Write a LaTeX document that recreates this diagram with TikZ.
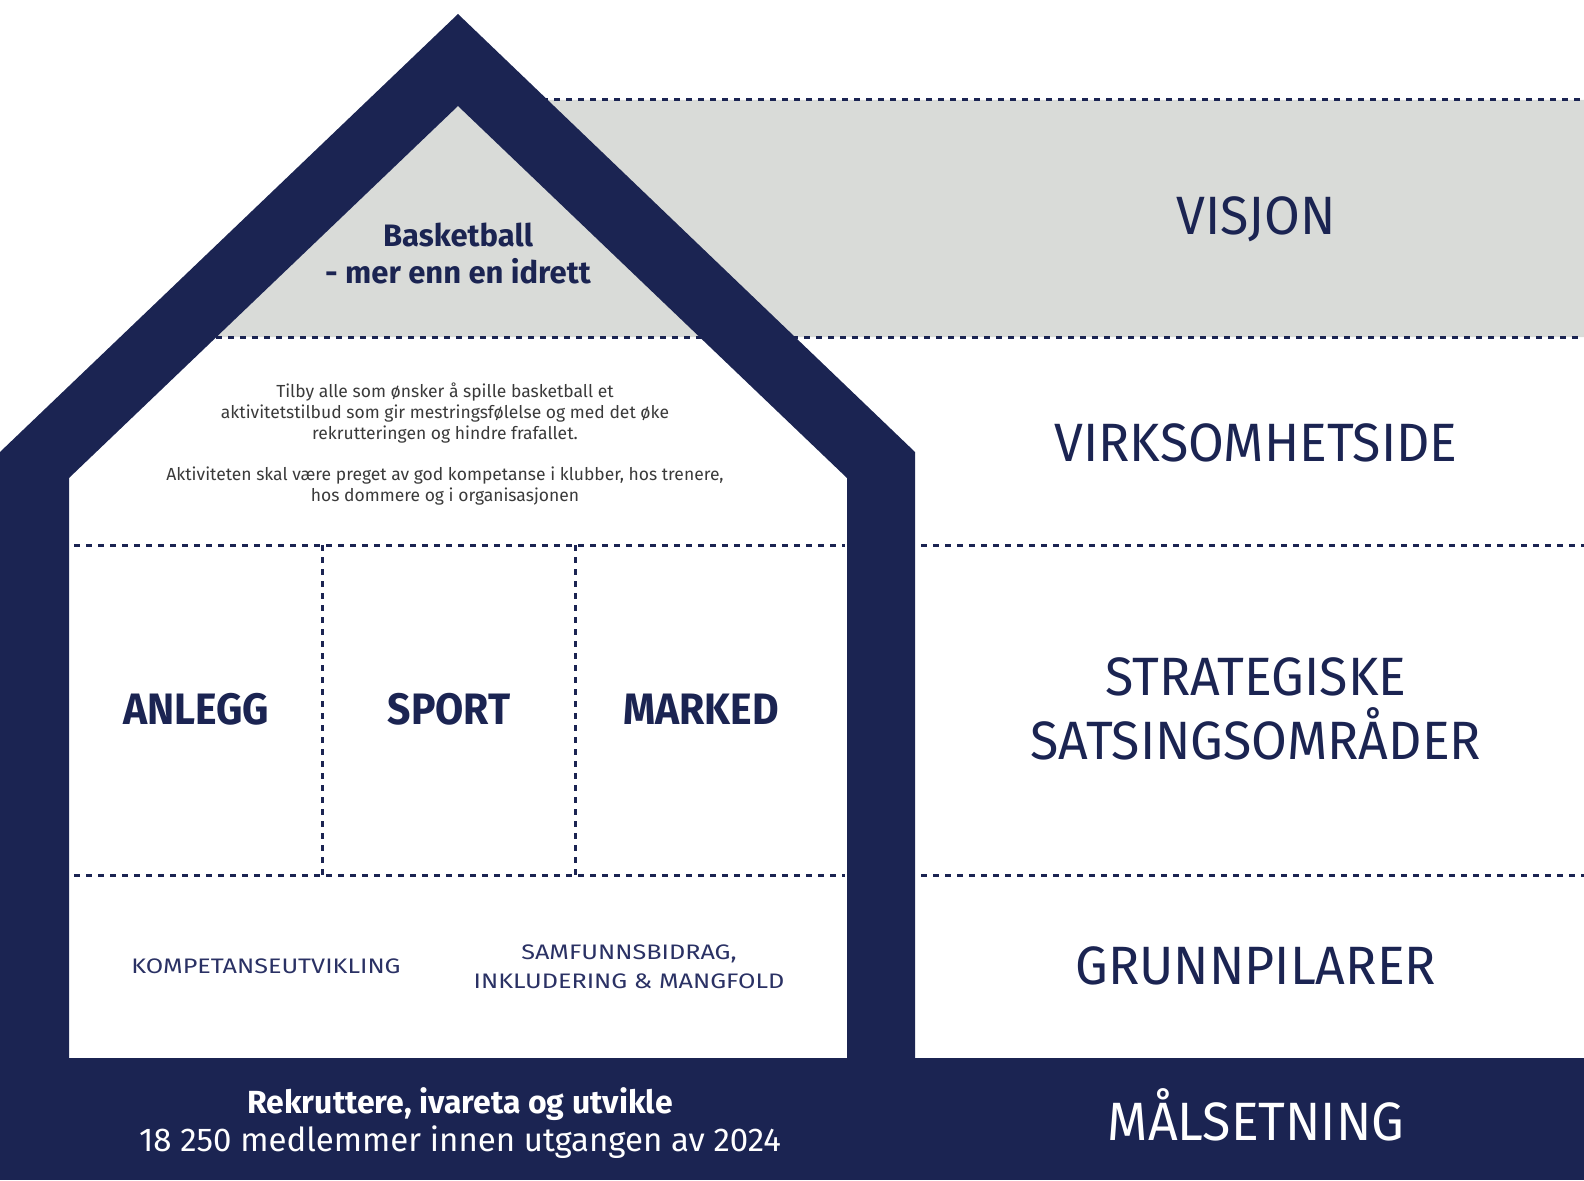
\documentclass[tikz,border=0pt]{standalone}
\usepackage{fontspec}
\setmainfont{Fira Sans}
\newfontfamily\levelfont{Fira Sans}[FakeStretch=0.96]
\newfontfamily\pillarfont{Fira Sans}[FakeStretch=0.93]
\newfontfamily\widefont{Fira Sans}[FakeStretch=1.2]
\definecolor{navy}{HTML}{1B2452}
\definecolor{visgray}{HTML}{D9DBD8}
\definecolor{bodygray}{HTML}{3A3A3A}
\definecolor{basisblue}{HTML}{2A3164}
\tikzset{
  sep/.style={navy, line width=3pt, dash pattern=on 6pt off 6pt},
  level/.style={anchor=base, text=navy, inner sep=0pt, font=\levelfont\fontsize{54}{60}\selectfont},
  pillar/.style={anchor=base, text=navy, inner sep=0pt, font=\pillarfont\fontsize{44}{50}\selectfont\bfseries},
  basis/.style={anchor=base, text=basisblue, inner sep=0pt, font=\widefont\fontsize{21}{28}\selectfont},
  roof/.style={anchor=base, text=navy, inner sep=0pt, font=\fontsize{31}{37}\selectfont\bfseries},
}
\begin{document}
\begin{tikzpicture}[x=1pt,y=-1pt]
\useasboundingbox (0,0) rectangle (1584,1180);
% vision band behind the roof
\fill[visgray] (216,337) -- (458,106) -- (458,100) -- (1584,100) -- (1584,337) -- cycle;
% dashed separators
\draw[sep] (458,100) -- (1584,100);
\draw[sep] (216,337) -- (1584,337);
\draw[sep] (74,545) -- (845,545);
\draw[sep] (921,545) -- (1584,545);
\draw[sep] (74,875) -- (845,875);
\draw[sep] (921,875) -- (1584,875);
\draw[sep] (322,545) -- (322,875);
\draw[sep] (575,545) -- (575,875);
% the house and the base
\fill[navy, even odd rule] (0,1058) -- (0,452) -- (458,14) -- (915,452) -- (915,1058) -- cycle
  (69,1058) -- (69,478) -- (458,106) -- (847,478) -- (847,1058) -- cycle;
\fill[navy] (0,1058) rectangle (1584,1180);
% roof
\node[roof] (vision1) at (458,246) {Basketball};
\node[roof] (vision2) at (458,283) {- mer enn en idrett};
\node[text=bodygray, align=center, inner sep=0pt, font=\fontsize{17.5}{20.8}\selectfont] (mission) at (445,444)
  {Tilby alle som ønsker å spille basketball et\\aktivitetstilbud som gir mestringsfølelse og med det øke\\rekrutteringen og hindre frafallet.\\[20.8pt]Aktiviteten skal være preget av god kompetanse i klubber, hos trenere,\\hos dommere og i organisasjonen};
% pillars
\node[pillar] (anlegg) at (196,724) {ANLEGG};
\node[pillar] (sport) at (449,724) {SPORT};
\node[pillar] (marked) at (701,724) {MARKED};
% foundations
\node[basis] (kompetanse) at (266,973) {KOMPETANSEUTVIKLING};
\node[basis] (samfunn1) at (629,959) {SAMFUNNSBIDRAG,};
\node[basis] (samfunn2) at (629,988) {INKLUDERING \& MANGFOLD};
% goal
\node[anchor=base, text=white, inner sep=0pt, font=\fontsize{32}{38}\selectfont\bfseries] (goal1) at (460,1113) {Rekruttere, ivareta og utvikle};
\node[anchor=base, text=white, inner sep=0pt, font=\fontsize{33}{38}\selectfont] (goal2) at (460,1151) {18 250 medlemmer innen utgangen av 2024};
% levels on the right
\node[level] (visjon) at (1256,234) {VISJON};
\node[level] (virksomhet) at (1256,461) {VIRKSOMHETSIDE};
\node[level] (strat1) at (1256,695) {STRATEGISKE};
\node[level] (strat2) at (1256,759) {SATSINGSOMRÅDER};
\node[level] (grunn) at (1256,984) {GRUNNPILARER};
\node[level, text=white] (maal) at (1256,1140) {MÅLSETNING};
\end{tikzpicture}
\end{document}
